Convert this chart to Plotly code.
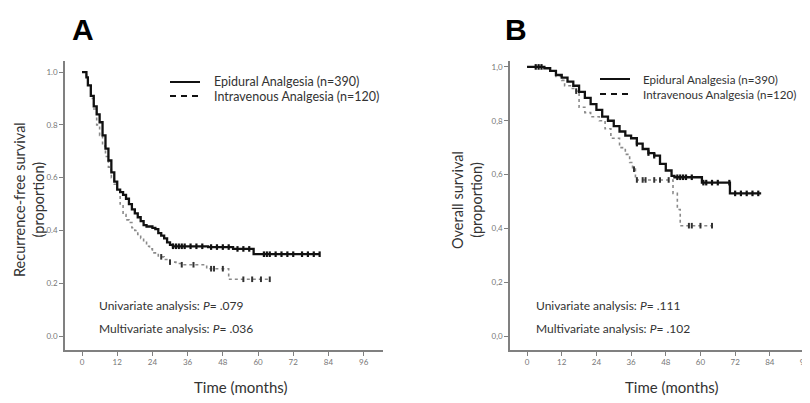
import numpy as np
import plotly.graph_objects as go

# ---------------- data ----------------
x_ticks = [0, 12, 24, 36, 48, 60, 72, 84, 96]
y_ticks = [0.0, 0.2, 0.4, 0.6, 0.8, 1.0]
y_ticktext_a = ["0.0", "0.2", "0.4", "0.6", "0.8", "1.0"]
y_ticktext_b = ["0,0", "0,2", "0,4", "0,6", "0,8", "1,0"]

# Panel A: recurrence-free survival
a_epi_t = [0, 0.8, 1.5, 2, 3, 4, 5, 6, 7, 8, 9, 10, 11, 12, 13, 14, 15, 16, 17, 18, 19, 20, 21, 22,
           24, 25, 26, 27, 28, 29, 30, 31, 43, 51.5, 58.5, 81]
a_epi_s = [1.0, 1.0, 0.98, 0.95, 0.91, 0.87, 0.84, 0.81, 0.76, 0.71, 0.665, 0.62, 0.585, 0.555, 0.545,
           0.535, 0.52, 0.50, 0.48, 0.465, 0.45, 0.435, 0.42, 0.415, 0.41, 0.405, 0.39, 0.38, 0.37,
           0.355, 0.345, 0.34, 0.337, 0.33, 0.31, 0.31]
a_epi_cens = [31, 32, 33, 34, 35, 37, 39, 41, 44, 46, 48, 50, 53, 55, 57, 62, 63, 64, 66, 68, 70, 72,
              75, 77, 79, 81]

a_iv_t = [0, 0.8, 1.5, 2, 3, 4, 5, 6, 7, 8, 9, 10, 11, 12, 13, 14, 15, 16, 17, 18, 19, 20, 21, 22,
          23, 24, 26, 28, 30, 32, 34, 42.5, 50, 64]
a_iv_s = [1.0, 1.0, 0.98, 0.95, 0.90, 0.86, 0.80, 0.76, 0.72, 0.68, 0.64, 0.60, 0.575, 0.55, 0.50,
          0.46, 0.44, 0.43, 0.41, 0.40, 0.385, 0.37, 0.355, 0.34, 0.33, 0.315, 0.30, 0.29, 0.28,
          0.275, 0.27, 0.255, 0.215, 0.215]
a_iv_cens = [27, 30, 34, 38, 44, 45, 48, 55, 58, 61, 64]

# Panel B: overall survival
b_epi_t = [0, 6, 8, 10, 12, 14, 16, 18, 20, 22, 24, 26, 28, 30, 32, 34, 36, 38, 40, 42, 44, 46, 48,
           50, 51, 60.5, 70.2, 81]
b_epi_s = [1.0, 0.995, 0.985, 0.97, 0.96, 0.945, 0.93, 0.907, 0.885, 0.862, 0.84, 0.815, 0.80, 0.78,
           0.76, 0.745, 0.735, 0.715, 0.695, 0.68, 0.67, 0.64, 0.615, 0.595, 0.59, 0.57, 0.53, 0.53]
b_epi_cens = [3, 4, 5, 38, 42, 44, 52, 53, 54, 55, 57, 61, 62, 64, 66, 70, 72, 74, 76, 78, 80]

b_iv_t = [0, 6, 8, 10, 12, 13, 15, 17, 18, 20, 22, 25, 27, 29, 32, 34, 35.5, 36.5, 37.5, 50.5, 52,
          53, 64]
b_iv_s = [1.0, 0.995, 0.985, 0.965, 0.95, 0.93, 0.92, 0.91, 0.85, 0.83, 0.815, 0.80, 0.77, 0.735,
          0.70, 0.675, 0.645, 0.62, 0.58, 0.53, 0.47, 0.41, 0.41]
b_iv_cens = [17, 37, 38, 40, 41, 44, 46, 49, 56, 57, 60, 64]

legend_names = ["Epidural Analgesia (n=390)", "Intravenous Analgesia (n=120)"]
stats_a = ["Univariate analysis: <i>P</i>= .079", "Multivariate analysis: <i>P</i>= .036"]
stats_b = ["Univariate analysis: <i>P</i>= .111", "Multivariate analysis: <i>P</i>= .102"]

# ---------------- figure ----------------
FONT = "Lato"
W, H = 810, 403
OFF = 8  # the page body margin shifts the figure by 8px right and down


def px(x):
    return (x - OFF) / W


def py(y):
    return 1 - (y - OFF) / H


fig = go.Figure()


def surv_at(ts, ss, cens):
    idx = np.searchsorted(np.array(ts), np.array(cens), side="right") - 1
    return [ss[i] for i in idx]


def add_panel(xa, ya, et, es, ec, it, is_, ic):
    fig.add_trace(go.Scatter(x=it, y=is_, mode="lines", line=dict(shape="hv", color="#8a8a8a",
                             width=1.6, dash="dot"), xaxis=xa, yaxis=ya, showlegend=False,
                             hoverinfo="skip"))
    fig.add_trace(go.Scatter(x=ic, y=surv_at(it, is_, ic), mode="markers",
                             marker=dict(symbol="line-ns-open", size=4, color="#333",
                                         line=dict(width=2, color="#333")),
                             xaxis=xa, yaxis=ya, showlegend=False, hoverinfo="skip"))
    fig.add_trace(go.Scatter(x=et, y=es, mode="lines", line=dict(shape="hv", color="#111", width=2.3),
                             xaxis=xa, yaxis=ya, showlegend=False, hoverinfo="skip"))
    fig.add_trace(go.Scatter(x=ec, y=surv_at(et, es, ec), mode="markers",
                             marker=dict(symbol="line-ns-open", size=4, color="#111",
                                         line=dict(width=2.2, color="#111")),
                             xaxis=xa, yaxis=ya, showlegend=False, hoverinfo="skip"))


add_panel("x", "y", a_epi_t, a_epi_s, a_epi_cens, a_iv_t, a_iv_s, a_iv_cens)
add_panel("x2", "y2", b_epi_t, b_epi_s, b_epi_cens, b_iv_t, b_iv_s, b_iv_cens)

ydom = [py(350), py(61)]
axis_common = dict(showgrid=False, zeroline=False, showline=True, linecolor="#808080", linewidth=1.5,
                   ticks="outside", ticklen=4, tickwidth=1, tickcolor="#808080",
                   tickfont=dict(family=FONT, size=8, color="#777"))

fig.update_layout(
    width=W, height=H, margin=dict(l=0, r=0, t=0, b=0),
    paper_bgcolor="white", plot_bgcolor="white", showlegend=False,
    font=dict(family=FONT, color="#333"),
    xaxis=dict(domain=[px(65), px(383)], range=[-5.8, 102.6], tickvals=x_ticks, anchor="y", **axis_common),
    yaxis=dict(domain=ydom, range=[-0.053, 1.042], tickvals=y_ticks, ticktext=y_ticktext_a, anchor="x",
               **axis_common),
    xaxis2=dict(domain=[px(510), px(810)], range=[-5.9, 97.9], tickvals=x_ticks, anchor="y2", **axis_common),
    yaxis2=dict(domain=ydom, range=[-0.052, 1.022], tickvals=y_ticks, ticktext=y_ticktext_b, anchor="x2",
                **axis_common),
)

ann = []


def add_text(text, x, y, size, xanchor="center", angle=0, color="#333", family=FONT):
    ann.append(dict(text=text, x=px(x), y=py(y), xref="paper", yref="paper", showarrow=False,
                    xanchor=xanchor, yanchor="middle", textangle=angle,
                    font=dict(family=family, size=size, color=color)))


# panel letters
add_text("<b>A</b>", 83, 29, 30, color="black", family="Liberation Sans")
add_text("<b>B</b>", 516, 29, 30, color="black", family="Liberation Sans")
# y titles
add_text("Recurrence-free survival<br>(proportion)", 29, 200, 14.5, angle=-90)
add_text("Overall survival<br>(proportion)", 467, 200, 14.5, angle=-90)
# x titles
add_text("Time (months)", 240, 387, 15)
add_text("Time (months)", 671, 387, 15)
# stats
for txt, yy in zip(stats_a, [305, 328]):
    add_text(txt, 97, yy, 12, xanchor="left")
for txt, yy in zip(stats_b, [305, 328]):
    add_text(txt, 534, yy, 12, xanchor="left")

# legends (line samples + labels)
shapes = []
legend_pos = [(170, 200, 212, [82, 96], 12.5), (600, 630, 641, [79, 94], 11.6)]
for x0, x1, xt, ys, fs in legend_pos:
    for name, yy, dash in zip(legend_names, ys, ["solid", "6px,5px"]):
        shapes.append(dict(type="line", xref="paper", yref="paper", x0=px(x0), x1=px(x1),
                           y0=py(yy), y1=py(yy), line=dict(color="#111", width=2, dash=dash)))
        add_text(name, xt, yy, fs, xanchor="left")

fig.update_layout(annotations=ann, shapes=shapes)

fig.write_html("out.html")
